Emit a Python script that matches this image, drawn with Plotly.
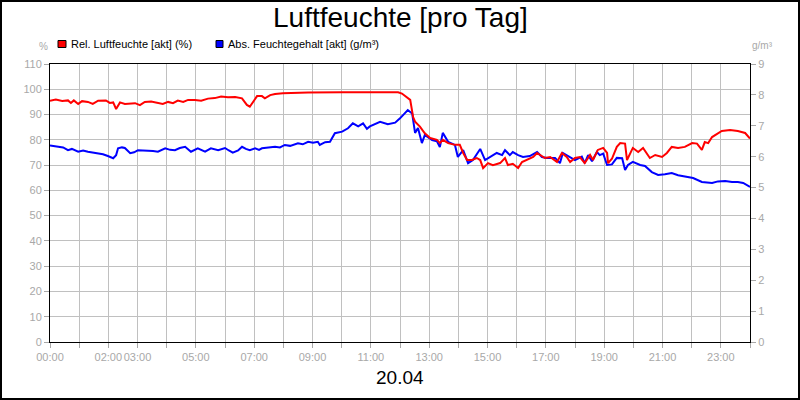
import plotly.graph_objects as go

title_text = "Luftfeuchte [pro Tag]"
date_label = "20.04"
rel_name = "Rel. Luftfeuchte [akt] (%)"
abs_name = "Abs. Feuchtegehalt [akt] (g/m³)"
left_unit = "%"
right_unit = "g/m³"

# minutes of the day and relative humidity (%)
rel_minutes = [0, 12, 25, 37, 43, 49, 58, 66, 78, 88, 99, 115, 123, 130, 136, 144, 154, 165, 175, 185,
               195, 208, 222, 232, 243, 253, 263, 274, 284, 298, 311, 325, 339, 352, 366, 381, 395, 405,
               411, 418, 426, 436, 442, 453, 463, 479, 531, 601, 669, 716, 724, 732, 741, 747, 751, 761,
               771, 782, 796, 802, 808, 819, 833, 843, 850, 858, 868, 878, 885, 891, 901, 911, 926, 936,
               942, 952, 963, 971, 981, 994, 1002, 1008, 1018, 1029, 1043, 1053, 1063, 1070, 1080, 1090,
               1100, 1111, 1117, 1127, 1138, 1146, 1148, 1156, 1166, 1173, 1183, 1187, 1199, 1210, 1220,
               1234, 1245, 1259, 1269, 1279, 1292, 1306, 1321, 1331, 1341, 1347, 1354, 1362, 1382, 1399,
               1415, 1430, 1440]
rel_values = [95.5, 95.9, 95.4, 95.6, 94.6, 95.6, 94.2, 95.3, 95.0, 94.2, 95.5, 95.6, 94.6, 94.8, 92.2,
              94.8, 94.2, 94.5, 94.5, 93.7, 95.0, 95.2, 94.6, 94.2, 95.0, 94.5, 95.5, 95.0, 95.8, 95.8,
              95.5, 96.3, 96.5, 97.1, 96.8, 96.9, 96.4, 93.8, 93.1, 95.0, 97.3, 97.3, 96.4, 97.7, 98.1,
              98.4, 98.7, 98.8, 98.7, 98.8, 98.3, 97.0, 95.8, 89.0, 87.2, 85.2, 82.6, 80.7, 80.0, 78.7,
              80.0, 78.7, 78.0, 78.0, 74.8, 72.0, 72.0, 72.8, 72.0, 68.8, 70.8, 70.0, 70.8, 72.8, 70.0,
              70.5, 68.8, 71.2, 72.0, 73.2, 74.8, 74.0, 72.8, 73.2, 71.2, 74.8, 73.2, 71.2, 72.8, 73.2,
              70.8, 74.0, 72.0, 76.0, 76.8, 74.8, 70.8, 72.5, 77.2, 78.7, 78.5, 72.0, 76.8, 75.2, 76.8,
              72.8, 74.0, 73.2, 74.8, 77.2, 76.8, 77.2, 78.7, 78.5, 76.0, 79.1, 78.7, 81.1, 83.5, 83.9,
              83.5, 82.7, 80.5]

# minutes of the day and absolute humidity (g/m³)
abs_minutes = [0, 16, 27, 37, 45, 58, 68, 78, 88, 99, 109, 119, 130, 136, 140, 148, 154, 165, 173, 181,
               191, 202, 212, 222, 230, 237, 247, 257, 267, 278, 290, 304, 319, 331, 346, 360, 368, 376,
               387, 395, 403, 411, 422, 430, 436, 448, 463, 473, 483, 494, 510, 520, 531, 541, 551, 555,
               566, 576, 586, 601, 613, 623, 634, 644, 652, 658, 664, 679, 695, 710, 720, 730, 736, 745,
               751, 757, 765, 771, 786, 796, 802, 808, 819, 833, 839, 850, 860, 870, 885, 895, 905, 919,
               930, 936, 946, 952, 963, 973, 987, 1002, 1012, 1022, 1039, 1049, 1055, 1070, 1080, 1094,
               1100, 1107, 1115, 1125, 1131, 1138, 1146, 1156, 1166, 1177, 1183, 1189, 1199, 1214, 1224,
               1238, 1251, 1265, 1279, 1292, 1306, 1323, 1341, 1362, 1374, 1389, 1403, 1415, 1426, 1440]
abs_values = [6.36, 6.32, 6.30, 6.21, 6.25, 6.16, 6.20, 6.16, 6.14, 6.11, 6.08, 6.02, 5.95, 6.05, 6.27,
              6.30, 6.28, 6.11, 6.14, 6.21, 6.20, 6.21, 6.18, 6.16, 6.22, 6.27, 6.22, 6.21, 6.28, 6.32,
              6.16, 6.27, 6.16, 6.27, 6.21, 6.28, 6.20, 6.13, 6.20, 6.32, 6.25, 6.21, 6.27, 6.22, 6.27,
              6.30, 6.32, 6.30, 6.38, 6.35, 6.43, 6.40, 6.48, 6.45, 6.48, 6.38, 6.47, 6.48, 6.76, 6.81,
              6.92, 7.08, 6.98, 7.08, 6.90, 6.98, 7.03, 7.13, 7.05, 7.10, 7.24, 7.40, 7.51, 7.40, 6.77,
              6.93, 6.44, 6.70, 6.54, 6.50, 6.31, 6.77, 6.48, 6.38, 5.99, 6.21, 5.79, 5.89, 6.25, 5.89,
              5.99, 6.12, 6.05, 6.21, 6.05, 6.15, 6.05, 5.99, 6.02, 6.15, 5.99, 5.96, 5.96, 5.79, 6.12,
              5.99, 5.89, 6.00, 5.79, 6.05, 5.85, 6.15, 6.05, 6.10, 5.73, 5.75, 5.96, 5.95, 5.57, 5.73,
              5.83, 5.73, 5.70, 5.50, 5.41, 5.43, 5.47, 5.40, 5.37, 5.31, 5.18, 5.15, 5.20, 5.21, 5.18,
              5.18, 5.15, 5.02]

hour_ticks = list(range(0, 1441, 60))
hour_labels = ["00:00", "", "02:00", "03:00", "", "05:00", "", "07:00", "", "09:00", "", "11:00", "",
               "13:00", "", "15:00", "", "17:00", "", "19:00", "", "21:00", "", "23:00", ""]
left_ticks = list(range(0, 111, 10))
right_ticks = list(range(0, 10))

W, H = 800, 400
L, R, T, B = 50, 50, 64, 58
PW, PH = W - L - R, H - T - B


def px(x):
    return (x - L) / PW


def py(y):
    return (H - B - y) / PH


FONT = "Liberation Sans, Arial, sans-serif"
GRAY = "#a8a8a8"
GRID = "#c0c0c0"

fig = go.Figure()
fig.add_trace(go.Scatter(x=abs_minutes, y=abs_values, mode="lines", name=abs_name,
                         line=dict(color="#0000ff", width=2), yaxis="y"))
fig.add_trace(go.Scatter(x=rel_minutes, y=rel_values, mode="lines", name=rel_name,
                         line=dict(color="#ff0000", width=2), yaxis="y2"))

axis_common = dict(showline=True, linecolor="black", linewidth=1, ticks="outside", ticklen=5,
                   tickcolor=GRAY, tickfont=dict(family=FONT, size=11, color=GRAY), zeroline=False)

fig.update_layout(
    width=W, height=H, margin=dict(l=L, r=R, t=T, b=B, pad=0),
    paper_bgcolor="white", plot_bgcolor="white", showlegend=False, hovermode=False,
    font=dict(family=FONT),
    xaxis=dict(range=[0, 1440], tickmode="array", tickvals=hour_ticks, ticktext=hour_labels,
               tickangle=0, showgrid=True, gridcolor=GRID, gridwidth=1, mirror=True, **axis_common),
    yaxis=dict(range=[0, 9], tickmode="array", tickvals=right_ticks, side="right",
               showgrid=False, **axis_common),
    yaxis2=dict(range=[0, 110], tickmode="array", tickvals=left_ticks, side="left",
                overlaying="y", showgrid=True, gridcolor=GRID, gridwidth=1, **axis_common),
)

annotations = [
    dict(x=0.5, y=py(18), text=title_text, font=dict(size=28, color="black", family=FONT)),
    dict(x=0.5, y=py(377), text=date_label, font=dict(size=19, color="black", family=FONT)),
    dict(x=px(69), y=py(44), text=rel_name, xanchor="left", font=dict(size=11, color="black", family=FONT)),
    dict(x=px(226), y=py(44), text=abs_name, xanchor="left", font=dict(size=11, color="black", family=FONT)),
    dict(x=px(43), y=py(47), text=left_unit, font=dict(size=10, color=GRAY, family=FONT)),
    dict(x=px(763), y=py(46), text=right_unit, font=dict(size=10, color=GRAY, family=FONT)),
]
for a in annotations:
    a.update(xref="paper", yref="paper", showarrow=False)
    a.setdefault("xanchor", "center")
    a["yanchor"] = "middle"
fig.update_layout(annotations=annotations)

shapes = [
    dict(type="rect", x0=px(58), x1=px(66), y0=py(40.5), y1=py(47.5), fillcolor="#ff0000",
         line=dict(color="black", width=1)),
    dict(type="rect", x0=px(216), x1=px(223), y0=py(40.5), y1=py(47.5), fillcolor="#0000ff",
         line=dict(color="black", width=1)),
    dict(type="rect", x0=px(1), x1=px(799), y0=py(1), y1=py(399), line=dict(color="black", width=2)),
]
for s in shapes:
    s.update(xref="paper", yref="paper", layer="above")
fig.update_layout(shapes=shapes)

fig.write_html("out.html")
